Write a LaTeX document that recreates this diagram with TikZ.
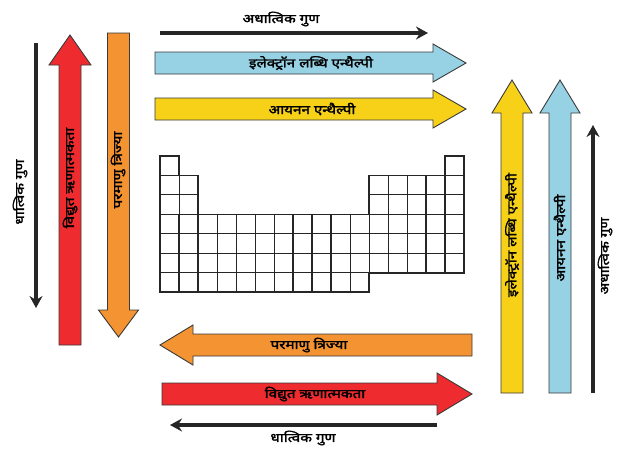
\documentclass[tikz,border=0pt]{standalone}
\usepackage{fontspec}
\newfontfamily\devfont[Script=Devanagari,FakeBold=2.2,FakeStretch=1.22]{Noto Sans}
\usepackage{tikz}
\usetikzlibrary{arrows.meta}
\definecolor{egain}{HTML}{96D2E4}
\definecolor{ionzn}{HTML}{F7D117}
\definecolor{eneg}{HTML}{EE2B2E}
\definecolor{arad}{HTML}{F39332}
\definecolor{edged}{HTML}{3A3A3A}

\begin{document}
\begin{tikzpicture}[x=1pt,y=-1pt,
  fat/.style={draw=edged,line width=0.9pt,line join=miter},
  trend/.style={-{Stealth[length=12pt,width=13pt,inset=4pt]},line width=3.2pt,black!85},
  lbl/.style={font=\devfont\fontsize{12.5}{14}\selectfont,inner sep=0pt},
  cell/.style={draw=black!85,line width=1pt}]
\useasboundingbox (0,0) rectangle (624,451);
\begin{scope}[shift={(160pt,-156pt)},x=19pt,y=-19.45pt]
  \foreach \i in {0,15} {\draw[cell] (\i,0) rectangle ++(1,1);}
  \foreach \i in {0,1,11,12,13,14,15} \foreach \j in {1,2} {\draw[cell] (\i,\j) rectangle ++(1,1);}
  \foreach \i in {0,...,15} \foreach \j in {3,4,5} {\draw[cell] (\i,\j) rectangle ++(1,1);}
  \foreach \i in {0,...,10} {\draw[cell] (\i,6) rectangle ++(1,1);}
  \draw[black!85,line width=1.7pt] (0,0) -- (1,0) -- (1,1) -- (2,1) -- (2,3) -- (11,3) -- (11,1) -- (15,1)
    -- (15,0) -- (16,0) -- (16,6) -- (11,6) -- (11,7) -- (0,7) -- cycle;
  \foreach \i in {1,2,7,8,9} {\draw[black!85,line width=1.7pt] (\i,3) -- (\i,7);}
  \foreach \i in {14,15} {\draw[black!85,line width=1.7pt] (\i,1) -- (\i,6);}
\end{scope}
\foreach \c/\col in {63/egain,109/ionzn}
  \filldraw[fat,fill=\col] (155,\c-11) -- (433,\c-11) -- (433,\c-19) -- (466,\c) -- (433,\c+19) -- (433,\c+11) -- (155,\c+11) -- cycle;
\foreach \c/\col in {512/ionzn,560/egain}
  \filldraw[fat,fill=\col] (\c-11,393) -- (\c-11,113) -- (\c-20,113) -- (\c,80) -- (\c+20,113) -- (\c+11,113) -- (\c+11,393) -- cycle;
\filldraw[fat,fill=eneg] (59,345) -- (59,65) -- (49,65) -- (70,35) -- (91,65) -- (81,65) -- (81,345) -- cycle;
\filldraw[fat,fill=arad] (107.5,33) -- (129.5,33) -- (129.5,310) -- (138.5,310) -- (118.5,337) -- (98.5,310) -- (107.5,310) -- cycle;
\filldraw[fat,fill=arad] (472,334) -- (193,334) -- (193,325) -- (160,345) -- (193,365) -- (193,356) -- (472,356) -- cycle;
\filldraw[fat,fill=eneg] (162,383) -- (437,383) -- (437,373) -- (472,394) -- (437,415) -- (437,405) -- (162,405) -- cycle;
\coordinate (nmtL) at (160,33);
\coordinate (nmtR) at (428,33);
\coordinate (mtlT) at (36,43);
\coordinate (mtlB) at (36,308);
\coordinate (nmrB) at (593,393);
\coordinate (nmrT) at (593,125);
\coordinate (mtbR) at (437,425);
\coordinate (mtbL) at (170,425);
\draw[trend] (nmtL) -- (nmtR);
\draw[trend] (mtlT) -- (mtlB);
\draw[trend] (nmrB) -- (nmrT);
\draw[trend] (mtbR) -- (mtbL);
\node[lbl] (nmtop) at (281,19) {अधात्विक गुण};
\node[lbl] (egtop) at (311,63) {इलेक्ट्रॉन लब्धि एन्थैल्पी};
\node[lbl] (ietop) at (312,109) {आयनन एन्थैल्पी};
\node[lbl,rotate=90] (mtleft) at (20,192) {धात्विक गुण};
\node[lbl,rotate=90] (enleft) at (70,178) {विद्युत ऋणात्मकता};
\node[lbl,rotate=90] (arleft) at (118,170) {परमाणु त्रिज्या};
\node[lbl,rotate=90] (egright) at (512,235) {इलेक्ट्रॉन लब्धि एन्थैल्पी};
\node[lbl,rotate=90] (ieright) at (560,238) {आयनन एन्थैल्पी};
\node[lbl,rotate=90] (nmright) at (605,256) {अधात्विक गुण};
\node[lbl] (arbot) at (309,345) {परमाणु त्रिज्या};
\node[lbl] (enbot) at (315,394) {विद्युत ऋणात्मकता};
\node[lbl] (mtbot) at (303,438) {धात्विक गुण};
\end{tikzpicture}
\end{document}
